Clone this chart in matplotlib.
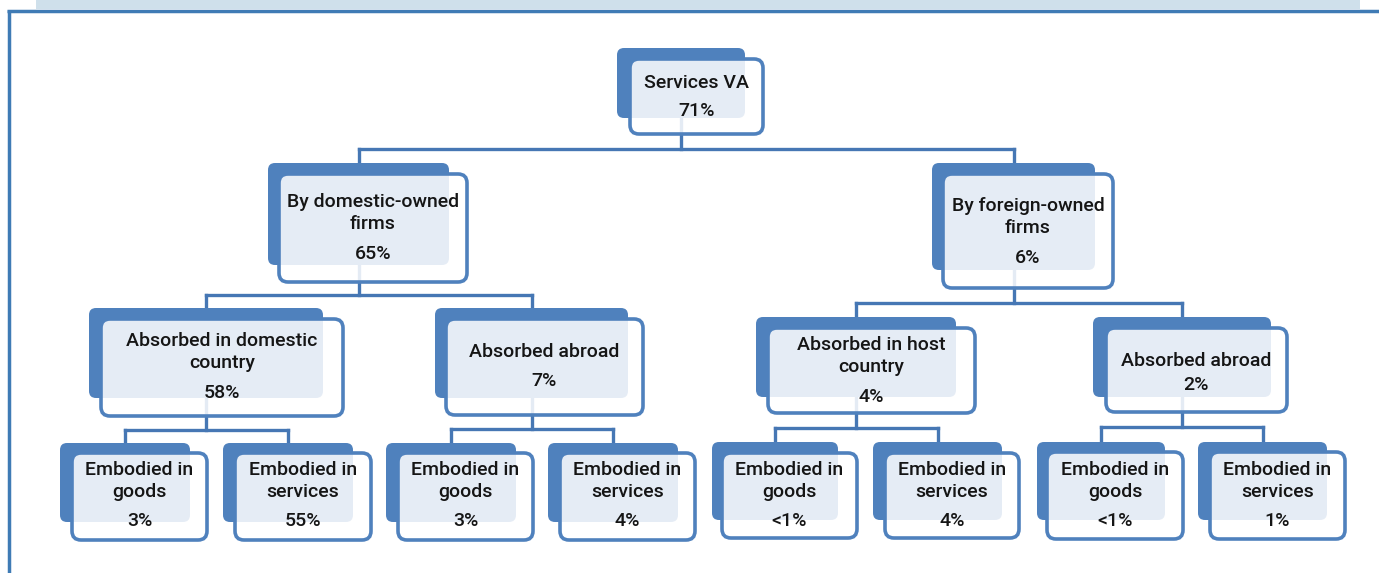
import matplotlib
matplotlib.use("Agg")
import matplotlib.pyplot as plt
from matplotlib.patches import FancyBboxPatch, Rectangle

# tree content
labels = [
    "Services VA",
    "By domestic-owned\nfirms", "By foreign-owned\nfirms",
    "Absorbed in domestic\ncountry", "Absorbed abroad",
    "Absorbed in host\ncountry", "Absorbed abroad",
    "Embodied in\ngoods", "Embodied in\nservices",
    "Embodied in\ngoods", "Embodied in\nservices",
    "Embodied in\ngoods", "Embodied in\nservices",
    "Embodied in\ngoods", "Embodied in\nservices",
]
values = ["71%", "65%", "6%", "58%", "7%", "4%", "2%",
          "3%", "55%", "3%", "4%", "<1%", "4%", "<1%", "1%"]
parent = [None, 0, 0, 1, 1, 2, 2, 3, 3, 4, 4, 5, 5, 6, 6]

# layout in pixels (y down): shadow box, front box, label y, value y
shadow = [(617, 48, 745, 118),
          (268, 163, 449, 265), (932, 163, 1095, 270),
          (89, 308, 323, 398), (435, 308, 628, 398),
          (756, 317, 956, 397), (1093, 317, 1271, 397),
          (60, 443, 190, 522), (223, 443, 353, 522),
          (386, 443, 516, 522), (548, 443, 678, 522),
          (712, 442, 838, 520), (873, 442, 1002, 520),
          (1037, 442, 1165, 520), (1198, 442, 1327, 520)]
front = [(630, 59, 763, 134),
         (279, 174, 467, 282), (943, 174, 1113, 288),
         (101, 319, 343, 416), (446, 319, 643, 415),
         (768, 328, 975, 413), (1106, 328, 1287, 412),
         (72, 453, 207, 540), (235, 453, 371, 540),
         (398, 453, 533, 540), (560, 453, 695, 540),
         (722, 453, 857, 538), (885, 453, 1019, 538),
         (1047, 452, 1183, 539), (1210, 452, 1345, 539)]
label_y = [83, 213, 217, 352, 352, 356, 361] + [481] * 8
value_y = [111, 254, 258, 393, 381, 397, 385] + [521] * 8

BLUE = "#4f81bd"
LINE = "#4677b4"
TXT = "#151515"
FONT = ["Roboto", "DejaVu Sans"]

W, H = 1379, 573
fig = plt.figure(figsize=(W / 100, H / 100), dpi=100)
ax = fig.add_axes([0, 0, 1, 1])
ax.set_xlim(0, W)
ax.set_ylim(H, 0)
ax.axis("off")

# frame: pale band on top, blue rule and left edge
ax.add_patch(Rectangle((36, 0), 1324, 9, facecolor="#cfe0eb", edgecolor="none"))
ax.plot([7, W], [10.5, 10.5], color="#3f7bb5", lw=2.5, solid_capstyle="butt")
ax.plot([8.5, 8.5], [10, H], color="#3f7bb5", lw=2.5, solid_capstyle="butt")

# connectors
for p in range(len(labels)):
    kids = [i for i, q in enumerate(parent) if q == p]
    if not kids:
        continue
    px = (shadow[p][0] + shadow[p][2]) / 2
    bus = (front[p][3] + shadow[kids[0]][1]) / 2
    ax.plot([px, px], [shadow[p][3], bus], color=LINE, lw=2.4, zorder=1)
    xs = [(shadow[k][0] + shadow[k][2]) / 2 for k in kids]
    ax.plot([min(xs), max(xs)], [bus, bus], color=LINE, lw=2.4, zorder=1,
            solid_capstyle="projecting")
    for k, x in zip(kids, xs):
        ax.plot([x, x], [bus, shadow[k][1] + 2], color=LINE, lw=2.4, zorder=1)

# nodes
for i in range(len(labels)):
    sx0, sy0, sx1, sy1 = shadow[i]
    ax.add_patch(FancyBboxPatch((sx0, sy0), sx1 - sx0, sy1 - sy0,
                                boxstyle="round,pad=0,rounding_size=7",
                                facecolor=BLUE, edgecolor="none", zorder=2))
    bx0, by0, bx1, by1 = front[i]
    ax.add_patch(FancyBboxPatch((bx0, by0), bx1 - bx0, by1 - by0,
                                boxstyle="round,pad=0,rounding_size=9",
                                facecolor="white", alpha=0.86,
                                edgecolor="none", zorder=3))
    ax.add_patch(FancyBboxPatch((bx0, by0), bx1 - bx0, by1 - by0,
                                boxstyle="round,pad=0,rounding_size=9",
                                facecolor="none", edgecolor=BLUE,
                                lw=2.6, zorder=4))
    cx = (bx0 + bx1) / 2
    ax.text(cx, label_y[i], labels[i], ha="center", va="center",
            multialignment="center", fontsize=14, color=TXT,
            family=FONT, weight="medium", linespacing=1.28, zorder=5)
    ax.text(cx, value_y[i], values[i], ha="center", va="center",
            fontsize=14, color=TXT, family=FONT, weight="medium", zorder=5)

fig.savefig("out.png", dpi=100)
